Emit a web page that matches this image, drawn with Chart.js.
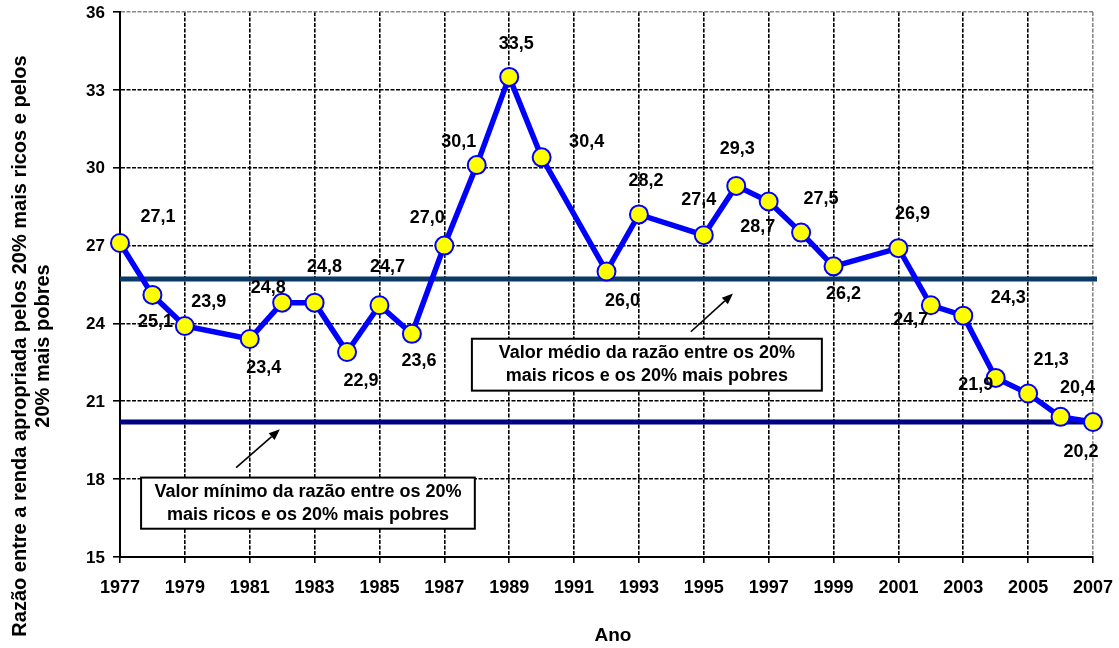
<!DOCTYPE html>
<html>
<head>
<meta charset="utf-8">
<script src="https://cdn.jsdelivr.net/npm/chart.js@4"></script>
<style>
  html, body { margin: 0; padding: 0; background: #fff; }
  #wrap { width: 1119px; height: 648px; }
</style>
</head>
<body>
<div id="wrap"><canvas id="c" width="1119" height="648"></canvas></div>
<script>
// Survey years and the rich/poor income ratio for each year
const years = [1977, 1978, 1979, 1981, 1982, 1983, 1984, 1985, 1986, 1987, 1988, 1989, 1990,
               1992, 1993, 1995, 1996, 1997, 1998, 1999, 2001, 2002, 2003, 2004, 2005, 2006, 2007];
const ratios = [27.1, 25.1, 23.9, 23.4, 24.8, 24.8, 22.9, 24.7, 23.6, 27.0, 30.1, 33.5, 30.4,
                26.0, 28.2, 27.4, 29.3, 28.7, 27.5, 26.2, 26.9, 24.7, 24.3, 21.9, 21.3, 20.4, 20.2];

// Axis ticks
const xTickYears = [1977, 1979, 1981, 1983, 1985, 1987, 1989, 1991, 1993, 1995, 1997, 1999, 2001, 2003, 2005, 2007];
const yTickValues = [15, 18, 21, 24, 27, 30, 33, 36];

// Texts
const yAxisTitle = ['Razão entre a renda apropriada pelos 20% mais ricos e pelos', '20% mais pobres'];
const xAxisTitle = 'Ano';
const meanNote = ['Valor médio da razão entre os 20%', 'mais ricos e os 20% mais pobres'];
const minNote = ['Valor mínimo da razão entre os 20%', 'mais ricos e os 20% mais pobres'];

// Reference levels derived from the series
const meanRatio = ratios.reduce((s, v) => s + v, 0) / ratios.length;
const minRatio = Math.min(...ratios);

// Label placement (pixel offsets from each point)
const labelOffsets = [
  [38, -26], [3, 27], [24, -24], [14, 29], [-14, -15], [10, -36], [14, 29], [8, -38], [7, 27],
  [-17, -28], [-18, -23], [7, -33], [45, -15], [16, 30], [7, -33], [-5, -35], [1, -37], [-11, 26],
  [20, -34], [10, 28], [14, -34], [-20, 15], [45, -18], [-20, 7], [23, -33], [17, -29], [-12, 30]
];

// Note boxes and arrows, in data units: box [x1, yTop, x2, yBottom], arrow [x0, y0, x1, y1]
const notes = [
  { lines: minNote, box: [1977.65, 18.06, 1987.94, 16.09], arrow: [1980.58, 18.44, 1981.93, 19.92] },
  { lines: meanNote, box: [1987.85, 23.41, 1998.64, 21.41], arrow: [1994.60, 23.68, 1995.90, 25.15] }
];

const FAMILY = '"Liberation Sans", Arial, sans-serif';
const fmt = v => v.toFixed(1).replace('.', ',');

const refLinesPlugin = {
  id: 'refLines',
  beforeDatasetsDraw(chart) {
    const { ctx, chartArea: a, scales: { x, y } } = chart;
    ctx.save();
    [[meanRatio, '#0b3a66'], [minRatio, '#000080']].forEach(([v, c]) => {
      const py = y.getPixelForValue(v);
      ctx.strokeStyle = c;
      ctx.lineWidth = 5;
      ctx.beginPath();
      ctx.moveTo(a.left, py);
      ctx.lineTo(a.right + 4, py);
      ctx.stroke();
    });
    // note boxes and arrows
    notes.forEach(n => {
      const x1 = x.getPixelForValue(n.box[0]), y1 = y.getPixelForValue(n.box[1]);
      const x2 = x.getPixelForValue(n.box[2]), y2 = y.getPixelForValue(n.box[3]);
      ctx.fillStyle = '#fff';
      ctx.fillRect(x1, y1, x2 - x1, y2 - y1);
      ctx.strokeStyle = '#000';
      ctx.lineWidth = 2;
      ctx.strokeRect(x1, y1, x2 - x1, y2 - y1);
      ctx.fillStyle = '#000';
      ctx.font = 'bold 18px ' + FAMILY;
      ctx.textAlign = 'center';
      ctx.textBaseline = 'middle';
      const cx = (x1 + x2) / 2, cy = (y1 + y2) / 2;
      ctx.fillText(n.lines[0], cx, cy - 11.5);
      ctx.fillText(n.lines[1], cx, cy + 11.5);

      const ax0 = x.getPixelForValue(n.arrow[0]), ay0 = y.getPixelForValue(n.arrow[1]);
      const ax1 = x.getPixelForValue(n.arrow[2]), ay1 = y.getPixelForValue(n.arrow[3]);
      const ang = Math.atan2(ay1 - ay0, ax1 - ax0);
      const hl = 11, hw = 4.5;
      const bx = ax1 - hl * Math.cos(ang), by = ay1 - hl * Math.sin(ang);
      ctx.strokeStyle = '#000';
      ctx.lineWidth = 1.6;
      ctx.beginPath();
      ctx.moveTo(ax0, ay0);
      ctx.lineTo(bx, by);
      ctx.stroke();
      ctx.beginPath();
      ctx.moveTo(ax1, ay1);
      ctx.lineTo(bx + hw * Math.sin(ang), by - hw * Math.cos(ang));
      ctx.lineTo(bx - hw * Math.sin(ang), by + hw * Math.cos(ang));
      ctx.closePath();
      ctx.fill();
    });
    ctx.restore();
  }
};

const labelsPlugin = {
  id: 'pointLabels',
  afterDatasetsDraw(chart) {
    const { ctx, scales: { x, y } } = chart;
    ctx.save();
    ctx.fillStyle = '#000';
    ctx.font = 'bold 18px ' + FAMILY;
    ctx.textAlign = 'center';
    ctx.textBaseline = 'middle';
    years.forEach((yr, i) => {
      const px = x.getPixelForValue(yr) + labelOffsets[i][0];
      const py = y.getPixelForValue(ratios[i]) + labelOffsets[i][1];
      ctx.fillText(fmt(ratios[i]), px, py);
    });
    ctx.restore();
  },
  afterDraw(chart) {
    const { ctx } = chart;
    ctx.save();
    ctx.fillStyle = '#000';
    ctx.font = 'bold 20px ' + FAMILY;
    ctx.textAlign = 'center';
    ctx.textBaseline = 'middle';
    ctx.translate(0, 346);
    ctx.rotate(-Math.PI / 2);
    ctx.fillText(yAxisTitle[0], 0, 20);
    ctx.fillText(yAxisTitle[1], 0, 43);
    ctx.restore();
    ctx.save();
    ctx.fillStyle = '#000';
    ctx.font = 'bold 19px ' + FAMILY;
    ctx.textAlign = 'center';
    ctx.textBaseline = 'middle';
    ctx.fillText(xAxisTitle, 613, 636);
    ctx.restore();
  }
};

new Chart(document.getElementById('c'), {
  type: 'line',
  data: {
    datasets: [{
      data: years.map((yr, i) => ({ x: yr, y: ratios[i] })),
      borderColor: '#0000ff',
      borderWidth: 5.5,
      pointRadius: 9,
      pointBorderWidth: 2,
      pointBackgroundColor: '#ffff00',
      pointBorderColor: '#0000ff',
      tension: 0,
      clip: false
    }]
  },
  options: {
    responsive: false,
    devicePixelRatio: 1,
    animation: false,
    events: [],
    layout: { padding: { top: 12, right: 26, left: 0, bottom: 0 } },
    plugins: { legend: { display: false }, tooltip: { enabled: false } },
    scales: {
      x: {
        type: 'linear',
        min: 1977,
        max: 2007,
        afterBuildTicks: s => { s.ticks = xTickYears.map(v => ({ value: v })); },
        afterFit: s => { s.height = 91; s.paddingLeft = 0; s.paddingRight = 0; },
        ticks: {
          callback: v => String(v),
          color: '#000',
          font: { family: FAMILY, size: 18, weight: 'bold' },
          padding: 14,
          maxRotation: 0,
          autoSkip: false
        },
        grid: {
          color: c => (c.tick && c.tick.value === 2007) ? '#888' : '#000',
          lineWidth: 1.6,
          tickColor: '#000',
          tickLength: 6,
          tickBorderDash: []
        },
        border: { display: true, color: '#000', width: 2, dash: [4, 1.5] }
      },
      y: {
        min: 15,
        max: 36,
        afterBuildTicks: s => { s.ticks = yTickValues.map(v => ({ value: v })); },
        afterFit: s => { s.width = 120; s.paddingTop = 0; s.paddingBottom = 0; },
        ticks: {
          color: '#000',
          font: { family: FAMILY, size: 17, weight: 'bold' },
          padding: 8,
          labelOffset: 1
        },
        grid: {
          color: c => (c.tick && c.tick.value === 36) ? '#888' : '#000',
          lineWidth: 1.6,
          tickColor: '#000',
          tickLength: 7,
          tickBorderDash: []
        },
        border: { display: true, color: '#000', width: 2, dash: [4, 1.5] }
      }
    }
  },
  plugins: [refLinesPlugin, labelsPlugin]
});
</script>
</body>
</html>
